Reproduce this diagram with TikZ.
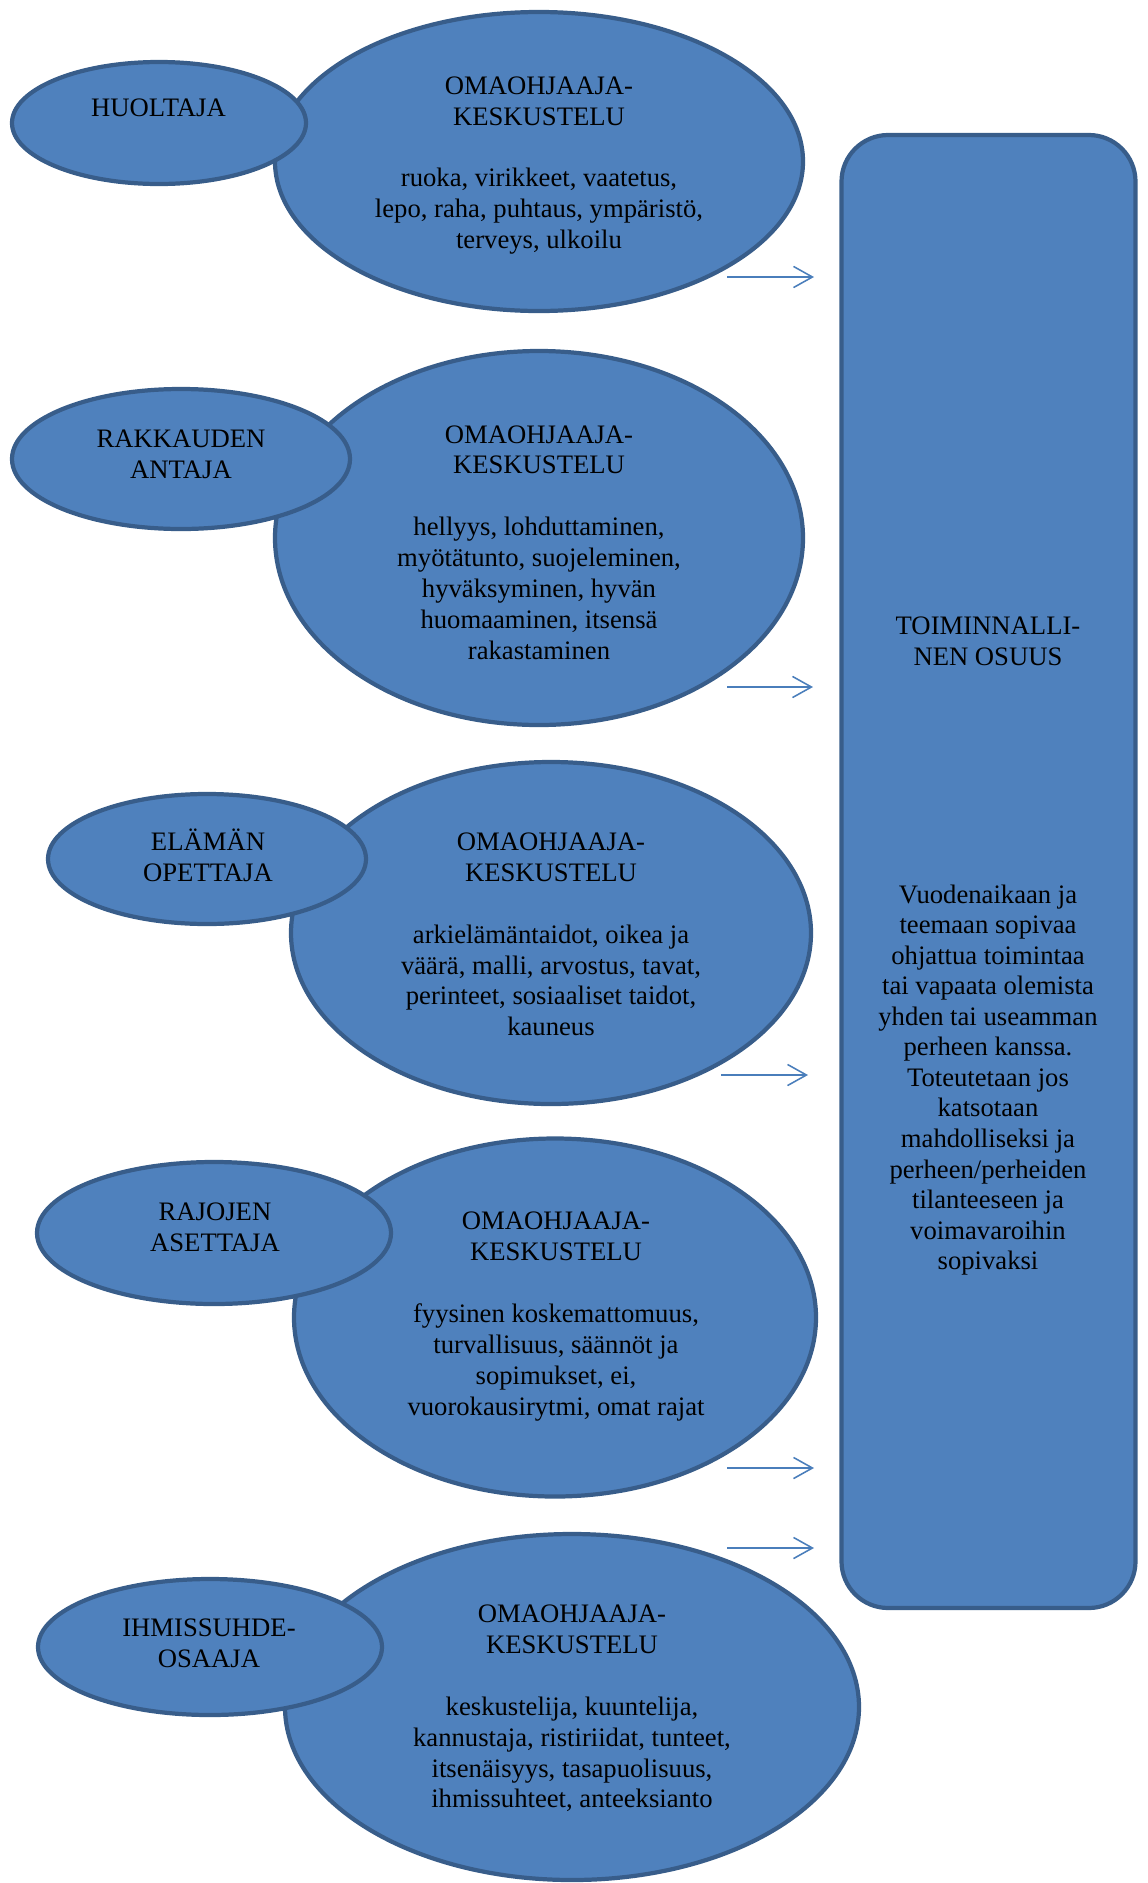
\documentclass[tikz,border=0pt]{standalone}
\usepackage{fontspec}
\setmainfont{Liberation Serif}
\usetikzlibrary{arrows.meta,shapes.geometric}
\definecolor{shapefill}{HTML}{4F81BD}
\definecolor{shapeline}{HTML}{385D8A}
\definecolor{arrowblue}{HTML}{4A7EBB}
\tikzset{
  ell/.style 2 args={ellipse, draw=shapeline, fill=shapefill, line width=1.9pt,
    inner sep=0pt, minimum width=#1*0.45pt, minimum height=#2*0.45pt},
  lbl/.style={align=center, text=black, inner sep=0pt,
    font=\fontsize{12}{13.9}\selectfont},
  conn/.style={draw=arrowblue, line width=0.7pt,
    -{Straight Barb[length=8.5pt, width=9.5pt, line width=0.7pt]}},
}
\begin{document}
\begin{tikzpicture}[x=0.45pt, y=-0.45pt]
\useasboundingbox (0,0) rectangle (1147,1883);

% big ellipses
\node[ell={528}{299}] (b1) at (539,161.5) {};
\node[ell={528}{374}] (b2) at (539,538) {};
\node[ell={520}{342}] (b3) at (551,933) {};
\node[ell={522}{358}] (b4) at (555,1317.5) {};
\node[ell={574}{346}] (b5) at (572,1707) {};

% small ellipses
\node[ell={294}{122}] (s1) at (159,123) {};
\node[ell={338}{140}] (s2) at (181,459) {};
\node[ell={318}{130}] (s3) at (207,859) {};
\node[ell={354}{142}] (s4) at (214,1233) {};
\node[ell={344}{136}] (s5) at (210,1647) {};

% big ellipse texts
\node[lbl] (b1t) at (539,165.5) {OMAOHJAAJA-\\KESKUSTELU\\[\baselineskip]ruoka, virikkeet, vaatetus,\\lepo, raha, puhtaus, ympäristö,\\terveys, ulkoilu};
\node[lbl] (b2t) at (539,542.5) {OMAOHJAAJA-\\KESKUSTELU\\[\baselineskip]hellyys, lohduttaminen,\\myötätunto, suojeleminen,\\hyväksyminen, hyvän\\huomaaminen, itsensä\\rakastaminen};
\node[lbl] (b3t) at (551,934.5) {OMAOHJAAJA-\\KESKUSTELU\\[\baselineskip]arkielämäntaidot, oikea ja\\väärä, malli, arvostus, tavat,\\perinteet, sosiaaliset taidot,\\kauneus};
\node[lbl] (b4t) at (556,1316.5) {OMAOHJAAJA-\\KESKUSTELU\\[\baselineskip]fyysinen koskemattomuus,\\turvallisuus, säännöt ja\\sopimukset, ei,\\vuorokausirytmi, omat rajat};
\node[lbl] (b5t) at (572,1708.5) {OMAOHJAAJA-\\KESKUSTELU\\[\baselineskip]keskustelija, kuuntelija,\\kannustaja, ristiriidat, tunteet,\\itsenäisyys, tasapuolisuus,\\ihmissuhteet, anteeksianto};

% small ellipse texts
\node[lbl] (s1t) at (158.5,108) {HUOLTAJA};
\node[lbl] (s2t) at (181,454) {RAKKAUDEN\\ANTAJA};
\node[lbl] (s3t) at (208,855.5) {ELÄMÄN\\OPETTAJA};
\node[lbl] (s4t) at (215,1227) {RAJOJEN\\ASETTAJA};
\node[lbl] (s5t) at (209,1643) {IHMISSUHDE-\\OSAAJA};

% rounded rectangle
\node[draw=shapeline, fill=shapefill, line width=1.9pt, rounded corners=21pt,
  inner sep=0pt, minimum width=294*0.45pt, minimum height=1473*0.45pt] (r) at (988.5,871.5) {};
\node[lbl] (rt) at (988,641) {TOIMINNALLI-\\NEN OSUUS};
\node[lbl, font=\fontsize{12}{13.75}\selectfont] (rb) at (988,1080) {Vuodenaikaan ja\\teemaan sopivaa\\ohjattua toimintaa\\tai vapaata olemista\\yhden tai useamman\\perheen kanssa.\\Toteutetaan jos\\katsotaan\\mahdolliseksi ja\\perheen/perheiden\\tilanteeseen ja\\voimavaroihin\\sopivaksi};

% arrows
\coordinate (a1s) at (727,277);  \coordinate (a1e) at (814,277);
\coordinate (a2s) at (727,687);  \coordinate (a2e) at (813,687);
\coordinate (a3s) at (721,1075); \coordinate (a3e) at (808,1075);
\coordinate (a4s) at (727,1468); \coordinate (a4e) at (814,1468);
\coordinate (a5s) at (727,1548); \coordinate (a5e) at (814,1548);
\draw[conn] (a1s) -- (a1e);
\draw[conn] (a2s) -- (a2e);
\draw[conn] (a3s) -- (a3e);
\draw[conn] (a4s) -- (a4e);
\draw[conn] (a5s) -- (a5e);
\end{tikzpicture}
\end{document}
